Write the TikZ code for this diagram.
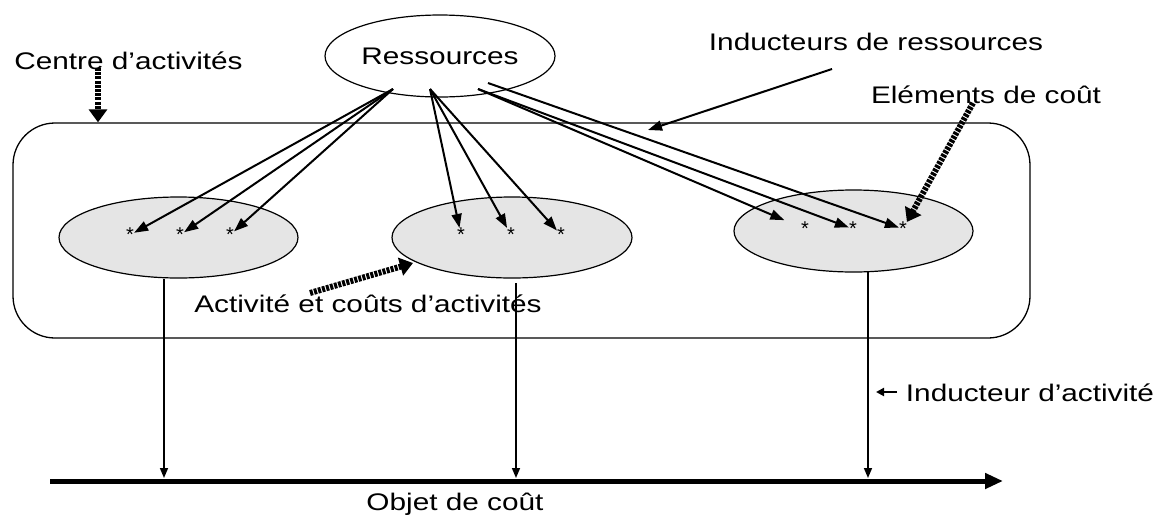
\documentclass[tikz,border=0pt]{standalone}
\usepackage{fontspec}
\usepackage{graphicx}
\setmainfont{Liberation Sans}
\usetikzlibrary{arrows.meta,shapes.geometric}
\newcommand{\wx}[1]{\scalebox{1.24}[1]{#1}}
\begin{document}
\begin{tikzpicture}[x=1pt,y=-1pt,
  lbl/.style={anchor=base, inner sep=0pt, font=\fontsize{24}{28}\selectfont},
  act/.style={ellipse, draw, fill=black!10, line width=1.2pt, inner sep=0pt},
  ast/.style={inner sep=0pt, font=\fontsize{20}{22}\selectfont},
  resarrow/.style={line width=2pt, -{Triangle[length=14pt,width=10pt]}},
  dasharrow/.style={line width=6pt, dash pattern=on 3pt off 1.2pt, -{Triangle[length=13pt,width=18pt]}},
  vline/.style={line width=1.6pt, -{Triangle[length=10pt,width=8pt]}}
]
\useasboundingbox (0,0) rectangle (1160,515);

% activity centre
\node[draw, line width=1.3pt, rounded corners=42pt, minimum width=1017pt, minimum height=215pt, inner sep=0pt] (centre) at (521.5,230.5) {};

% resources
\node[ellipse, draw, line width=1.2pt, minimum width=230pt, minimum height=82pt, inner sep=0pt, font=\fontsize{24}{28}\selectfont] (res) at (440,56) {\wx{Ressources}};

% activities
\node[act, minimum width=239pt, minimum height=81pt] (a1) at (178.5,237.5) {};
\node[act, minimum width=240pt, minimum height=81pt] (a2) at (512,237.5) {};
\node[act, minimum width=239pt, minimum height=82pt] (a3) at (853.5,231) {};

% cost elements
\node[ast] (s11) at (130,235) {*};
\node[ast] (s12) at (180,235) {*};
\node[ast] (s13) at (230,235) {*};
\node[ast] (s21) at (461,235) {*};
\node[ast] (s22) at (511,235) {*};
\node[ast] (s23) at (561,235) {*};
\node[ast] (s31) at (805,229) {*};
\node[ast] (s32) at (853,229) {*};
\node[ast] (s33) at (903,229) {*};

% resource drivers
\coordinate (rL) at (393,89);
\coordinate (rM) at (430,89);
\coordinate (rR) at (478,89);
\coordinate (rR2) at (488,83);
\draw[resarrow] (rL) -- (s11);
\draw[resarrow] (rL) -- (s12);
\draw[resarrow] (rL) -- (s13);
\draw[resarrow] (rM) -- (s21);
\draw[resarrow] (rM) -- (s22);
\draw[resarrow] (rM) -- (s23);
\draw[resarrow, shorten >=18pt] (rR) -- (s31);
\draw[resarrow] (rR) -- (s32);
\draw[resarrow] (rR2) -- (s33);

% cost object axis
\coordinate (ax0) at (50,481);
\coordinate (ax1) at (1003,481);
\draw[line width=5pt, -{Triangle[length=18pt,width=15pt]}] (ax0) -- (ax1);

% activity drivers
\coordinate (v1a) at (164,279);
\coordinate (v1b) at (164,478);
\coordinate (v2a) at (516,283);
\coordinate (v2b) at (516,478);
\coordinate (v3a) at (868,272);
\coordinate (v3b) at (868,478);
\draw[vline] (v1a) -- (v1b);
\draw[vline] (v2a) -- (v2b);
\draw[vline] (v3a) -- (v3b);

% labels
\node[lbl] (lcentre) at (128.5,69) {\wx{Centre d’activités}};
\node[lbl] (lind) at (876,50) {\wx{Inducteurs de ressources}};
\node[lbl] (lelem) at (986,103) {\wx{Eléments de coût}};
\node[lbl] (lact) at (368,312) {\wx{Activité et coûts d’activités}};
\node[lbl] (lindact) at (1030,401) {\wx{Inducteur d’activité}};
\node[lbl] (lobj) at (455,510) {\wx{Objet de coût}};

% label pointers
\coordinate (c0) at (98,68);
\draw[dasharrow] (c0) -- (c0 |- centre.north);
\coordinate (i0) at (832,69);
\coordinate (i1) at (648,130);
\draw[line width=2pt, -{Triangle[length=14pt,width=10pt]}] (i0) -- (i1);
\coordinate (e0) at (973,103);
\draw[dasharrow] (e0) -- (s33);
\coordinate (ac0) at (310,293);
\coordinate (ac1) at (413,263);
\draw[dasharrow] (ac0) -- (ac1);
\coordinate (ia0) at (897,392);
\coordinate (ia1) at (876,392);
\draw[line width=2pt, -{Triangle[length=8pt,width=8pt]}] (ia0) -- (ia1);
\end{tikzpicture}
\end{document}
